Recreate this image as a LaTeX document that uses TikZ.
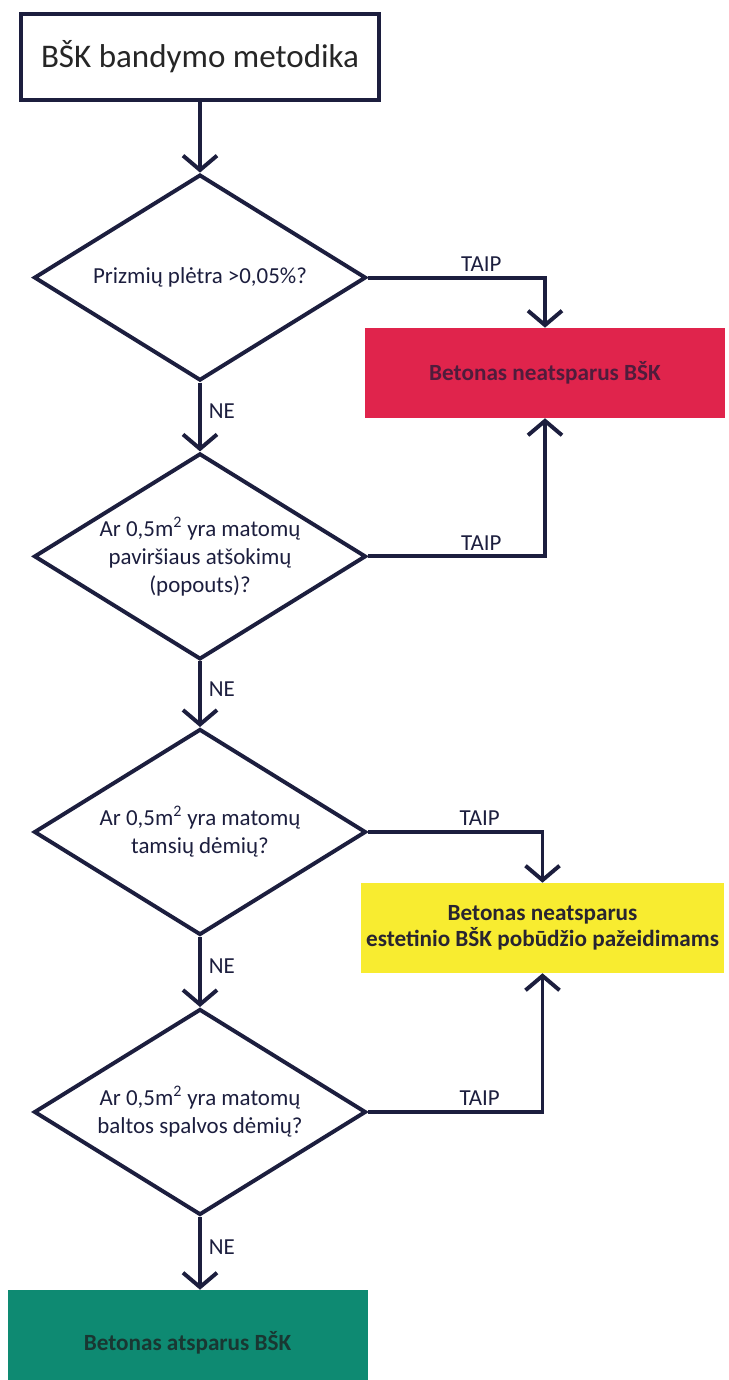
\documentclass[tikz,border=0pt]{standalone}
\usepackage{fontspec}
\setmainfont{Carlito}
\usetikzlibrary{positioning, arrows.meta, shapes.geometric}

\definecolor{linenavy}{RGB}{28,30,62}
\definecolor{stopred}{RGB}{224,36,76}
\definecolor{warnyellow}{RGB}{248,236,48}
\definecolor{okgreen}{RGB}{14,138,114}

\begin{document}
\begin{tikzpicture}[
    % Start box style
    startbox/.style={
        rectangle,
        draw=linenavy,
        line width=2.8pt,
        fill=white,
        minimum width=8.95cm,
        minimum height=2.15cm,
        text=black!85,
        font=\fontsize{23.5}{28}\selectfont
    },
    % Decision style
    decision/.style={
        diamond,
        shape aspect=1.61,
        draw=linenavy,
        line width=2.8pt,
        fill=white,
        minimum width=8.3cm,
        minimum height=5.15cm,
        inner sep=0pt,
        align=center,
        text=linenavy,
        font=\fontsize{16.3}{20}\selectfont
    },
    % Result box style
    result/.style={
        rectangle,
        minimum width=9cm,
        minimum height=2.25cm,
        align=center,
        font=\fontsize{16.5}{18.5}\selectfont\bfseries
    },
    % Arrow style
    arrow/.style={
        -{Straight Barb[length=3.6mm, width=8.5mm]},
        line width=2.8pt,
        draw=linenavy
    },
    % Answer label style
    answer/.style={
        font=\fontsize{16.3}{20}\selectfont,
        text=linenavy,
        inner sep=2pt
    }
]
\useasboundingbox (0, 0) rectangle (18.2, 34.5);

% === Start ===
\node[startbox] (start) at (5.0, 33.075) {BŠK bandymo metodika};

% === Questions ===
\node[decision] (q1) at (5.0, 27.56) {Prizmių plėtra >0,05\%?};
\node[decision] (q2) at (5.0, 20.59) {Ar 0,5m\textsuperscript{2} yra matomų\\paviršiaus atšokimų\\(popouts)?};
\node[decision] (q3) at (5.0, 13.7) {Ar 0,5m\textsuperscript{2} yra matomų\\tamsių dėmių?};
\node[decision] (q4) at (5.0, 6.7) {Ar 0,5m\textsuperscript{2} yra matomų\\baltos spalvos dėmių?};

% === Results ===
\node[result, fill=stopred, text={rgb,255:red,80;green,28;blue,60}] (neat) at (13.625, 25.175) {Betonas neatsparus BŠK};
\node[result, fill=warnyellow, text={rgb,255:red,40;green,36;blue,48}] (estet) at (13.5625, 11.3) {Betonas neatsparus\\estetinio BŠK pobūdžio pažeidimams};
\node[result, fill=okgreen, text={rgb,255:red,25;green,55;blue,50}, minimum height=2.625cm] (atspar) at (4.6875, 0.9375) {Betonas atsparus BŠK};

% === Arrows down (NE) ===
\draw[arrow] (start) -- (q1);
\draw[arrow] (q1) -- node[answer, right=1mm, pos=0.42] {NE} (q2);
\draw[arrow] (q2) -- node[answer, right=1mm, pos=0.42] {NE} (q3);
\draw[arrow] (q3) -- node[answer, right=1mm, pos=0.42] {NE} (q4);
\draw[arrow] (q4) -- node[answer, right=1mm, pos=0.42] {NE} (q4 |- atspar.north);

% === Arrows to the side (TAIP) ===
\draw[arrow] (q1.east) -| node[answer, above=1pt, pos=0.32] {TAIP} (neat.north);
\draw[arrow] (q2.east) -| node[answer, above=1pt, pos=0.32] {TAIP} (neat.south);
\draw[arrow] (q3.east) -| node[answer, above=1pt, pos=0.32] {TAIP} (estet.north);
\draw[arrow] (q4.east) -| node[answer, above=1pt, pos=0.32] {TAIP} (estet.south);

\end{tikzpicture}
\end{document}
